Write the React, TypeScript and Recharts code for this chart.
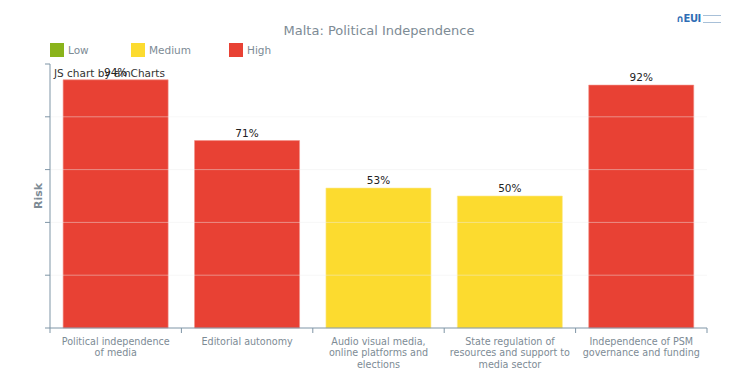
import { BarChart, Bar, XAxis, YAxis, Cell, LabelList, ReferenceLine } from 'recharts'

const categories = [
  'Political independence\nof media',
  'Editorial autonomy',
  'Audio visual media,\nonline platforms and\nelections',
  'State regulation of\nresources and support to\nmedia sector',
  'Independence of PSM\ngovernance and funding',
]
const riskValues = [94, 71, 53, 50, 92]
const yTicks = [0, 20, 40, 60, 80, 100]
const legendItems = ['Low', 'Medium', 'High']

const COLORS: Record<string, string> = {
  Low: '#8ab31b',
  Medium: '#fcdb2f',
  High: '#e84134',
}

const FONT = '"DejaVu Sans", Verdana, sans-serif'
const AXIS = '#7f95a6'
const MARGIN = { top: 64, right: 31, left: 42, bottom: 6 }
const Y_WIDTH = 8
const BAND = (738 - MARGIN.left - MARGIN.right - Y_WIDTH) / categories.length

const riskLevel = (v: number) => (v > 66 ? 'High' : v > 33 ? 'Medium' : 'Low')

const data = categories.map((name, i) => ({ name, value: riskValues[i] }))

function CategoryTick(props: any) {
  const { x, y, payload, index } = props
  const lines = String(payload.value).split('\n')
  const left = x - BAND / 2
  return (
    <g>
      <line x1={left} x2={left} y1={y} y2={y + 5} stroke={AXIS} />
      {index === categories.length - 1 && <line x1={x + BAND / 2} x2={x + BAND / 2} y1={y} y2={y + 5} stroke={AXIS} />}
      <text x={x} y={y} textAnchor="middle" fill="#7d8b95" fontSize={9.6} fontFamily={FONT}>
        {lines.map((line, i) => (
          <tspan key={i} x={x} dy={i === 0 ? 16.5 : 11.5}>
            {line}
          </tspan>
        ))}
      </text>
    </g>
  )
}

const Empty = () => <g />

export default function App() {
  return (
    <div style={{ position: 'absolute', left: 0, top: 0, width: 738, height: 384, background: '#fff', fontFamily: FONT }}>
      <div style={{ position: 'absolute', left: 0, width: 758, top: 23, textAlign: 'center', fontSize: 13, color: '#7d8b95' }}>
        Malta: Political Independence
      </div>
      <div style={{ position: 'absolute', left: 676, top: 13, display: 'flex', alignItems: 'center' }}>
        <span style={{ color: '#2f6db5', fontSize: 10, fontWeight: 'bold', letterSpacing: -0.5 }}>∩EUI</span>
        <span style={{ display: 'inline-block', width: 18, height: 6, marginLeft: 2, borderTop: '1px solid #a8c0d8', borderBottom: '1px solid #a8c0d8' }} />
      </div>
      {legendItems.map((item, i) => (
        <div
          key={item}
          style={{ position: 'absolute', top: 43, left: [50, 131, 229][i], display: 'flex', alignItems: 'center', fontSize: 10.5, color: '#7d8b95' }}
        >
          <span style={{ display: 'inline-block', width: 14, height: 14, background: COLORS[item], marginRight: 4 }} />
          {item}
        </div>
      ))}
      <BarChart width={738} height={384} data={data} margin={MARGIN} barCategoryGap="10%">
        <XAxis
          dataKey="name"
          height={50}
          axisLine={{ stroke: AXIS }}
          tickLine={false}
          tickSize={0}
          tickMargin={0}
          interval={0}
          tick={CategoryTick}
        />
        <YAxis
          type="number"
          domain={[0, 100]}
          ticks={yTicks}
          width={Y_WIDTH}
          axisLine={{ stroke: AXIS }}
          tickLine={{ stroke: AXIS }}
          tickSize={5}
          tick={Empty}
          label={{
            value: 'Risk',
            angle: -90,
            position: 'insideLeft',
            offset: -4,
            style: { fill: '#7d8b95', fontSize: 11, fontWeight: 'bold', fontFamily: FONT, textAnchor: 'middle' },
          }}
        />
        <Bar dataKey="value" isAnimationActive={false} strokeWidth={0.6}>
          {data.map((d, i) => (
            <Cell key={i} fill={COLORS[riskLevel(d.value)]} stroke={riskLevel(d.value) === 'High' ? '#f28f86' : '#fde98a'} />
          ))}
          <LabelList
            dataKey="value"
            position="top"
            offset={4}
            formatter={(v: any) => `${v}%`}
            style={{ fill: '#222', fontSize: 10.5, fontFamily: FONT }}
          />
        </Bar>
        {[20, 40, 60, 80].map((v) => (
          <ReferenceLine key={v} y={v} stroke="#eeeeee" strokeOpacity={0.45} />
        ))}
        <text x={54} y={77} fontSize={10.5} fill="#333" fontFamily={FONT}>
          JS chart by amCharts
        </text>
      </BarChart>
    </div>
  )
}
